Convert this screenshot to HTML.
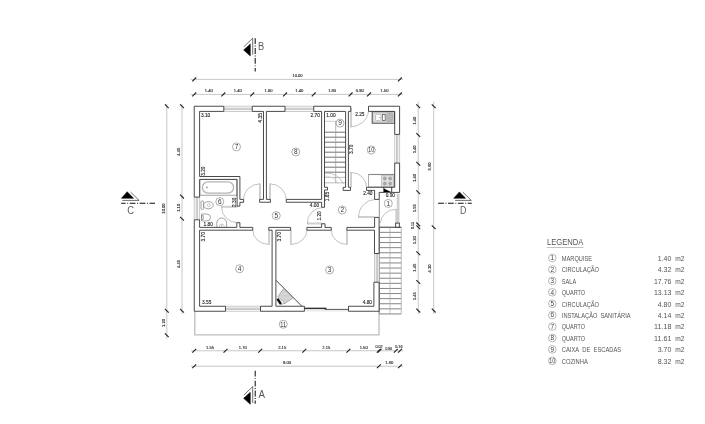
<!DOCTYPE html>
<html><head><meta charset="utf-8"><title>Planta</title>
<style>
html,body{margin:0;padding:0;background:#fff;}
body{width:705px;height:424px;overflow:hidden;font-family:"Liberation Sans",sans-serif;}
svg{display:block;font-family:"Liberation Sans",sans-serif;will-change:transform;transform:translateZ(0);}
</style></head><body>
<svg width="705" height="424" viewBox="0 0 705 424">
<rect width="705" height="424" fill="#fff"/>
<path d="M194.8,311.25 L194.8,334.9 L379.0,334.9 L379.0,311.25" fill="none" stroke="#bdbdbd" stroke-width="1.3"/>
<line x1="379.40" y1="227.25" x2="401.25" y2="227.25" stroke="#333" stroke-width="0.8" />
<line x1="379.40" y1="232.35" x2="401.25" y2="232.35" stroke="#666" stroke-width="0.8" />
<line x1="379.40" y1="237.45" x2="401.25" y2="237.45" stroke="#666" stroke-width="0.8" />
<line x1="379.40" y1="242.55" x2="401.25" y2="242.55" stroke="#666" stroke-width="0.8" />
<line x1="379.40" y1="247.65" x2="401.25" y2="247.65" stroke="#666" stroke-width="0.8" />
<line x1="379.40" y1="252.75" x2="401.25" y2="252.75" stroke="#666" stroke-width="0.8" />
<line x1="379.40" y1="257.85" x2="401.25" y2="257.85" stroke="#666" stroke-width="0.8" />
<line x1="379.40" y1="262.95" x2="401.25" y2="262.95" stroke="#666" stroke-width="0.8" />
<line x1="379.40" y1="268.05" x2="401.25" y2="268.05" stroke="#666" stroke-width="0.8" />
<line x1="379.40" y1="273.15" x2="401.25" y2="273.15" stroke="#666" stroke-width="0.8" />
<line x1="379.40" y1="278.25" x2="401.25" y2="278.25" stroke="#666" stroke-width="0.8" />
<line x1="379.40" y1="283.35" x2="401.25" y2="283.35" stroke="#666" stroke-width="0.8" />
<line x1="379.40" y1="288.45" x2="401.25" y2="288.45" stroke="#666" stroke-width="0.8" />
<line x1="379.40" y1="293.55" x2="401.25" y2="293.55" stroke="#666" stroke-width="0.8" />
<line x1="379.40" y1="298.65" x2="401.25" y2="298.65" stroke="#666" stroke-width="0.8" />
<line x1="379.40" y1="303.75" x2="401.25" y2="303.75" stroke="#666" stroke-width="0.8" />
<line x1="379.40" y1="308.85" x2="401.25" y2="308.85" stroke="#666" stroke-width="0.8" />
<line x1="379.40" y1="313.95" x2="401.25" y2="313.95" stroke="#666" stroke-width="0.8" />
<line x1="390.00" y1="227.25" x2="390.00" y2="314.00" stroke="#aaa" stroke-width="0.7" />
<line x1="401.25" y1="227.25" x2="401.25" y2="314.00" stroke="#aaa" stroke-width="0.8" />
<line x1="379.40" y1="227.25" x2="379.40" y2="314.00" stroke="#888" stroke-width="0.8" />
<rect x="223.80" y="108.14" width="28.45" height="1.47" fill="#e4e4e4"/>
<line x1="223.80" y1="106.25" x2="252.25" y2="106.25" stroke="#b4b4b4" stroke-width="0.7" />
<line x1="223.80" y1="108.14" x2="252.25" y2="108.14" stroke="#b4b4b4" stroke-width="0.7" />
<line x1="223.80" y1="109.61" x2="252.25" y2="109.61" stroke="#b4b4b4" stroke-width="0.7" />
<line x1="223.80" y1="111.50" x2="252.25" y2="111.50" stroke="#b4b4b4" stroke-width="0.7" />
<rect x="285.00" y="108.14" width="28.75" height="1.47" fill="#e4e4e4"/>
<line x1="285.00" y1="106.25" x2="313.75" y2="106.25" stroke="#b4b4b4" stroke-width="0.7" />
<line x1="285.00" y1="108.14" x2="313.75" y2="108.14" stroke="#b4b4b4" stroke-width="0.7" />
<line x1="285.00" y1="109.61" x2="313.75" y2="109.61" stroke="#b4b4b4" stroke-width="0.7" />
<line x1="285.00" y1="111.50" x2="313.75" y2="111.50" stroke="#b4b4b4" stroke-width="0.7" />
<rect x="396.46" y="134.40" width="1.37" height="28.70" fill="#e4e4e4"/>
<line x1="394.70" y1="134.40" x2="394.70" y2="163.10" stroke="#b4b4b4" stroke-width="0.7" />
<line x1="396.46" y1="134.40" x2="396.46" y2="163.10" stroke="#b4b4b4" stroke-width="0.7" />
<line x1="397.84" y1="134.40" x2="397.84" y2="163.10" stroke="#b4b4b4" stroke-width="0.7" />
<line x1="399.60" y1="134.40" x2="399.60" y2="163.10" stroke="#b4b4b4" stroke-width="0.7" />
<rect x="196.18" y="197.10" width="1.50" height="22.70" fill="#e4e4e4"/>
<line x1="194.25" y1="197.10" x2="194.25" y2="219.80" stroke="#b4b4b4" stroke-width="0.7" />
<line x1="196.18" y1="197.10" x2="196.18" y2="219.80" stroke="#b4b4b4" stroke-width="0.7" />
<line x1="197.67" y1="197.10" x2="197.67" y2="219.80" stroke="#b4b4b4" stroke-width="0.7" />
<line x1="199.60" y1="197.10" x2="199.60" y2="219.80" stroke="#b4b4b4" stroke-width="0.7" />
<rect x="225.50" y="308.05" width="35.00" height="1.40" fill="#e4e4e4"/>
<line x1="225.50" y1="306.25" x2="260.50" y2="306.25" stroke="#b4b4b4" stroke-width="0.7" />
<line x1="225.50" y1="308.05" x2="260.50" y2="308.05" stroke="#b4b4b4" stroke-width="0.7" />
<line x1="225.50" y1="309.45" x2="260.50" y2="309.45" stroke="#b4b4b4" stroke-width="0.7" />
<line x1="225.50" y1="311.25" x2="260.50" y2="311.25" stroke="#b4b4b4" stroke-width="0.7" />
<rect x="376.16" y="253.50" width="1.29" height="28.75" fill="#e4e4e4"/>
<line x1="374.50" y1="253.50" x2="374.50" y2="282.25" stroke="#b4b4b4" stroke-width="0.7" />
<line x1="376.16" y1="253.50" x2="376.16" y2="282.25" stroke="#b4b4b4" stroke-width="0.7" />
<line x1="377.44" y1="253.50" x2="377.44" y2="282.25" stroke="#b4b4b4" stroke-width="0.7" />
<line x1="379.10" y1="253.50" x2="379.10" y2="282.25" stroke="#b4b4b4" stroke-width="0.7" />
<line x1="304.40" y1="308.40" x2="326.50" y2="308.40" stroke="#333" stroke-width="1.5" />
<line x1="324.50" y1="309.40" x2="348.50" y2="309.40" stroke="#555" stroke-width="1.0" />
<line x1="304.40" y1="310.90" x2="348.50" y2="310.90" stroke="#ccc" stroke-width="0.6" />
<rect x="396.7" y="193.6" width="2.8" height="29.6" fill="#cfcfcf"/>
<line x1="379.30" y1="199.40" x2="379.30" y2="217.40" stroke="#777" stroke-width="0.8" />
<line x1="379.10" y1="227.25" x2="401.40" y2="227.25" stroke="#444" stroke-width="0.5" />
<line x1="324.50" y1="121.30" x2="336.00" y2="121.30" stroke="#bbb" stroke-width="0.7" />
<line x1="324.50" y1="132.20" x2="345.60" y2="132.20" stroke="#5a5a5a" stroke-width="0.85" />
<line x1="324.50" y1="137.20" x2="345.60" y2="137.20" stroke="#5a5a5a" stroke-width="0.85" />
<line x1="324.50" y1="142.20" x2="345.60" y2="142.20" stroke="#5a5a5a" stroke-width="0.85" />
<line x1="324.50" y1="147.20" x2="345.60" y2="147.20" stroke="#5a5a5a" stroke-width="0.85" />
<line x1="324.50" y1="152.20" x2="345.60" y2="152.20" stroke="#5a5a5a" stroke-width="0.85" />
<line x1="324.50" y1="157.20" x2="345.60" y2="157.20" stroke="#5a5a5a" stroke-width="0.85" />
<line x1="324.50" y1="162.20" x2="345.60" y2="162.20" stroke="#5a5a5a" stroke-width="0.85" />
<line x1="324.50" y1="167.20" x2="345.60" y2="167.20" stroke="#5a5a5a" stroke-width="0.85" />
<line x1="324.50" y1="172.20" x2="345.60" y2="172.20" stroke="#5a5a5a" stroke-width="0.85" />
<line x1="324.50" y1="177.40" x2="345.60" y2="177.40" stroke="#aaa" stroke-width="0.8" />
<line x1="324.50" y1="182.80" x2="345.60" y2="182.80" stroke="#aaa" stroke-width="0.8" />
<line x1="335.70" y1="121.30" x2="335.70" y2="182.80" stroke="#999" stroke-width="0.7" />
<path d="M325,173.2 Q338,172.5 343.5,184" fill="none" stroke="#b0b0b0" stroke-width="0.7"/>
<path d="M325,176 Q334,176 338,184" fill="none" stroke="#c8c8c8" stroke-width="0.6"/>
<path d="M350.75,126.90 A18.00,18.00 0 0 0 368.50,111.50" fill="none" stroke="#a8a8a8" stroke-width="0.7"/>
<rect x="350.40" y="108.50" width="1.00" height="18.40" fill="#fff" stroke="#b0b0b0" stroke-width="0.6"/>
<path d="M259.90,183.90 A16.00,16.00 0 0 0 243.60,199.60" fill="none" stroke="#a8a8a8" stroke-width="0.7"/>
<rect x="259.60" y="183.90" width="1.00" height="15.50" fill="#fff" stroke="#b0b0b0" stroke-width="0.6"/>
<path d="M270.10,183.90 A16.00,16.00 0 0 1 286.25,199.60" fill="none" stroke="#a8a8a8" stroke-width="0.7"/>
<rect x="269.40" y="183.90" width="1.00" height="15.50" fill="#fff" stroke="#b0b0b0" stroke-width="0.6"/>
<path d="M221.60,207.00 A15.40,15.60 0 0 0 237.00,222.60" fill="none" stroke="#a8a8a8" stroke-width="0.7"/>
<rect x="221.60" y="206.20" width="15.40" height="1.00" fill="#fff" stroke="#b0b0b0" stroke-width="0.6"/>
<path d="M307.25,223.60 A15.25,15.80 0 0 1 322.50,207.60" fill="none" stroke="#a8a8a8" stroke-width="0.7"/>
<rect x="307.25" y="223.00" width="14.60" height="1.00" fill="#fff" stroke="#b0b0b0" stroke-width="0.6"/>
<path d="M351.40,172.50 A15.20,15.00 0 0 1 366.60,187.30" fill="none" stroke="#a8a8a8" stroke-width="0.7"/>
<rect x="350.60" y="172.50" width="1.00" height="15.00" fill="#fff" stroke="#b0b0b0" stroke-width="0.6"/>
<path d="M358.50,217.25 A16.50,18.00 0 0 1 374.60,199.60" fill="none" stroke="#a8a8a8" stroke-width="0.7"/>
<rect x="358.50" y="216.70" width="16.10" height="1.00" fill="#fff" stroke="#b0b0b0" stroke-width="0.6"/>
<path d="M395.90,209.40 A15.30,14.40 0 0 0 380.40,223.20" fill="none" stroke="#a8a8a8" stroke-width="0.7"/>
<rect x="395.90" y="209.40" width="0.90" height="13.80" fill="#fff" stroke="#b0b0b0" stroke-width="0.6"/>
<path d="M269.00,244.40 A16.25,14.20 0 0 1 252.75,230.20" fill="none" stroke="#a8a8a8" stroke-width="0.7"/>
<rect x="268.75" y="230.20" width="1.00" height="14.20" fill="#fff" stroke="#b0b0b0" stroke-width="0.6"/>
<path d="M291.00,244.40 A16.00,14.20 0 0 0 306.90,230.20" fill="none" stroke="#a8a8a8" stroke-width="0.7"/>
<rect x="290.20" y="230.20" width="1.00" height="14.20" fill="#fff" stroke="#b0b0b0" stroke-width="0.6"/>
<path d="M346.90,244.40 A15.60,14.20 0 0 1 331.25,230.20" fill="none" stroke="#a8a8a8" stroke-width="0.7"/>
<rect x="346.30" y="230.20" width="1.00" height="14.20" fill="#fff" stroke="#b0b0b0" stroke-width="0.6"/>
<rect x="199.9" y="179.6" width="37" height="15.6" fill="none" stroke="#8c8c8c" stroke-width="0.8"/>
<rect x="202.4" y="181.9" width="31.2" height="11.2" rx="5.6" ry="5.6" fill="#fff" stroke="#b2b2b2" stroke-width="1.3"/>
<circle cx="206.9" cy="187.4" r="0.9" fill="#999"/>
<rect x="201" y="201" width="2.6" height="8.4" rx="0.8" fill="none" stroke="#8c8c8c" stroke-width="0.8"/>
<ellipse cx="208.4" cy="205.2" rx="4.9" ry="3.6" fill="none" stroke="#8c8c8c" stroke-width="0.8"/>
<circle cx="208.8" cy="205.2" r="1.5" fill="none" stroke="#aaa" stroke-width="0.6"/>
<path d="M201.6,214 L206.5,214 A4,3.5 0 0 1 206.5,221 L201.6,221 Z" fill="none" stroke="#8c8c8c" stroke-width="0.8"/>
<rect x="201.4" y="215.7" width="1.8" height="3.6" fill="none" stroke="#8c8c8c" stroke-width="0.8"/>
<path d="M216.8,227.3 L216.8,223 A4.9,5 0 0 1 226.6,223 L226.6,227.3" fill="none" stroke="#8c8c8c" stroke-width="0.8"/>
<path d="M219,227.3 A2.7,3.2 0 0 1 224.4,227.3" fill="none" stroke="#aaa" stroke-width="0.6"/>
<line x1="221.70" y1="224.50" x2="221.70" y2="227.30" stroke="#999" stroke-width="0.6" />
<rect x="372.2" y="111.7" width="22.4" height="11.5" fill="#fff" stroke="#444" stroke-width="1"/>
<rect x="373.9" y="113" width="19.2" height="8.9" fill="#fff" stroke="#9a9a9a" stroke-width="0.7"/>
<rect x="375.5" y="114.3" width="5.4" height="6.3" rx="0.8" fill="#fff" stroke="#a8a8a8" stroke-width="0.7"/>
<circle cx="379.6" cy="117.4" r="0.5" fill="#888"/>
<rect x="382.3" y="114.5" width="2.9" height="5.9" fill="#fff" stroke="#555" stroke-width="0.8"/>
<rect x="386.3" y="113.3" width="6.5" height="8.3" rx="1.5" fill="#b8b8b8" stroke="#999" stroke-width="0.5"/>
<rect x="368.6" y="174.4" width="25.6" height="12.6" fill="#fff" stroke="#999" stroke-width="0.8"/>
<line x1="368.6" y1="174.5" x2="394.2" y2="174.5" stroke="#888" stroke-width="1.1"/>
<rect x="381.6" y="175.7" width="11.9" height="10.6" fill="#dedede" stroke="#aaa" stroke-width="0.6"/>
<circle cx="384.8" cy="178.4" r="1.5" fill="#aaa" stroke="#888" stroke-width="0.5"/>
<circle cx="390.2" cy="178.4" r="1.5" fill="#aaa" stroke="#888" stroke-width="0.5"/>
<circle cx="384.8" cy="183.6" r="1.5" fill="#aaa" stroke="#888" stroke-width="0.5"/>
<circle cx="390.2" cy="183.6" r="1.5" fill="#aaa" stroke="#888" stroke-width="0.5"/>
<path d="M275.9,280.2 L301.9,306.25" fill="none" stroke="#333" stroke-width="0.9"/>
<defs><pattern id="h" width="2" height="1.3" patternUnits="userSpaceOnUse"><rect width="2" height="1.3" fill="#eee"/><line x1="0" y1="0.6" x2="2" y2="0.6" stroke="#999" stroke-width="0.5"/></pattern></defs>
<path d="M283.7,288.5 L293.1,298 L285,303.3 L277.9,296.6 Z" fill="url(#h)" stroke="#888" stroke-width="0.6"/>
<path d="M276.4,299.4 L278.4,297.9 L281.9,303.3 L279.9,304.8 Z" fill="#111"/>
<line x1="280.00" y1="304.60" x2="285.00" y2="303.30" stroke="#666" stroke-width="0.6" />
<path d="M194.25,106.25 L223.80,106.25 L223.80,111.40 L199.60,111.40 L199.60,176.50 L239.90,176.50 L239.90,199.40 L243.60,199.40 L243.60,202.30 L239.90,202.30 L239.90,206.10 L237.10,206.10 L237.10,179.40 L199.60,179.40 L199.60,197.10 L194.25,197.10 Z" stroke="#2a2a2a" stroke-width="0.85" fill="#fff" stroke-linejoin="miter"/>
<path d="M252.25,106.25 L285.00,106.25 L285.00,111.40 L266.40,111.40 L266.40,199.40 L270.40,199.40 L270.40,202.25 L259.60,202.25 L259.60,199.40 L263.50,199.40 L263.50,111.40 L252.25,111.40 Z" stroke="#2a2a2a" stroke-width="0.85" fill="#fff" stroke-linejoin="miter"/>
<path d="M313.75,106.25 L350.75,106.25 L350.75,111.40 L348.40,111.40 L348.40,187.30 L350.50,187.30 L350.50,190.40 L343.20,190.40 L343.20,187.30 L345.60,187.30 L345.60,111.40 L324.50,111.40 L324.50,187.30 L327.50,187.30 L327.50,190.00 L324.50,190.00 L324.50,207.25 L321.60,207.25 L321.60,202.25 L286.25,202.25 L286.25,199.40 L321.60,199.40 L321.60,111.40 L313.75,111.40 Z" stroke="#2a2a2a" stroke-width="0.85" fill="#fff" stroke-linejoin="miter"/>
<path d="M368.50,106.25 L399.60,106.25 L399.60,134.40 L394.70,134.40 L394.70,111.40 L368.50,111.40 Z" stroke="#2a2a2a" stroke-width="0.85" fill="#fff" stroke-linejoin="miter"/>
<path d="M394.70,163.10 L399.60,163.10 L399.60,192.40 L379.20,192.40 L379.20,199.40 L374.60,199.40 L374.60,190.40 L366.50,190.40 L366.50,187.30 L394.70,187.30 Z" stroke="#2a2a2a" stroke-width="0.85" fill="#fff" stroke-linejoin="miter"/>
<line x1="383.80" y1="187.30" x2="383.80" y2="192.40" stroke="#2a2a2a" stroke-width="0.9" />
<line x1="391.70" y1="187.30" x2="391.70" y2="192.40" stroke="#2a2a2a" stroke-width="0.9" />
<path d="M383.9,188.4 L391.0,191.9 L383.9,191.9 Z" fill="#000"/>
<path d="M194.25,219.80 L199.60,219.80 L199.60,227.40 L236.80,227.40 L236.80,222.70 L239.90,222.70 L239.90,227.40 L252.75,227.40 L252.75,230.20 L199.60,230.20 L199.60,306.25 L225.50,306.25 L225.50,311.25 L194.25,311.25 Z" stroke="#2a2a2a" stroke-width="0.85" fill="#fff" stroke-linejoin="miter"/>
<path d="M268.75,227.40 L290.60,227.40 L290.60,230.20 L275.90,230.20 L275.90,306.25 L304.40,306.25 L304.40,311.25 L260.50,311.25 L260.50,306.25 L272.10,306.25 L272.10,230.20 L268.75,230.20 Z" stroke="#2a2a2a" stroke-width="0.85" fill="#fff" stroke-linejoin="miter"/>
<path d="M306.90,227.40 L321.60,227.40 L321.60,223.75 L325.00,223.75 L325.00,227.40 L331.25,227.40 L331.25,230.20 L306.90,230.20 Z" stroke="#2a2a2a" stroke-width="0.85" fill="#fff" stroke-linejoin="miter"/>
<path d="M346.90,227.40 L374.60,227.40 L374.60,217.40 L379.10,217.40 L379.10,253.50 L374.50,253.50 L374.50,230.20 L346.90,230.20 Z" stroke="#2a2a2a" stroke-width="0.85" fill="#fff" stroke-linejoin="miter"/>
<path d="M348.50,306.25 L373.90,306.25 L373.90,282.25 L379.10,282.25 L379.10,311.25 L348.50,311.25 Z" stroke="#2a2a2a" stroke-width="0.85" fill="#fff" stroke-linejoin="miter"/>
<rect x="395.7" y="223.1" width="3.6" height="4.1" stroke="#2a2a2a" stroke-width="0.85" fill="#fff" stroke-linejoin="miter"/>
<circle cx="236.5" cy="146.9" r="4.0" fill="none" stroke="#777" stroke-width="0.6"/>
<text x="236.50" y="149.15" font-size="6.5" fill="#333" text-anchor="middle" >7</text>
<circle cx="295.75" cy="152" r="4.0" fill="none" stroke="#777" stroke-width="0.6"/>
<text x="295.75" y="154.25" font-size="6.5" fill="#333" text-anchor="middle" >8</text>
<circle cx="340" cy="123.1" r="4.0" fill="none" stroke="#777" stroke-width="0.6"/>
<text x="340.00" y="125.35" font-size="6.5" fill="#333" text-anchor="middle" >9</text>
<circle cx="371.25" cy="150" r="4.0" fill="none" stroke="#777" stroke-width="0.6"/>
<text x="371.25" y="152.25" font-size="6.5" fill="#333" text-anchor="middle" textLength="5.90" lengthAdjust="spacingAndGlyphs" >10</text>
<circle cx="219.8" cy="201.6" r="4.0" fill="none" stroke="#777" stroke-width="0.6"/>
<text x="219.80" y="203.85" font-size="6.5" fill="#333" text-anchor="middle" >6</text>
<circle cx="276.25" cy="215.6" r="4.0" fill="none" stroke="#777" stroke-width="0.6"/>
<text x="276.25" y="217.85" font-size="6.5" fill="#333" text-anchor="middle" >5</text>
<circle cx="342.25" cy="210" r="4.0" fill="none" stroke="#777" stroke-width="0.6"/>
<text x="342.25" y="212.25" font-size="6.5" fill="#333" text-anchor="middle" >2</text>
<circle cx="388.3" cy="203.4" r="4.0" fill="none" stroke="#777" stroke-width="0.6"/>
<text x="388.30" y="205.65" font-size="6.5" fill="#333" text-anchor="middle" >1</text>
<circle cx="239.6" cy="268.75" r="4.0" fill="none" stroke="#777" stroke-width="0.6"/>
<text x="239.60" y="271.00" font-size="6.5" fill="#333" text-anchor="middle" >4</text>
<circle cx="329.6" cy="270" r="4.0" fill="none" stroke="#777" stroke-width="0.6"/>
<text x="329.60" y="272.25" font-size="6.5" fill="#333" text-anchor="middle" >3</text>
<circle cx="283.25" cy="324.25" r="4.0" fill="none" stroke="#777" stroke-width="0.6"/>
<text x="283.25" y="326.50" font-size="6.5" fill="#333" text-anchor="middle" textLength="5.90" lengthAdjust="spacingAndGlyphs" >11</text>
<text x="200.90" y="116.90" font-size="4.8" fill="#222" text-anchor="start" stroke="#222" stroke-width="0.12">3.10</text>
<text x="310.60" y="117.00" font-size="4.8" fill="#222" text-anchor="start" stroke="#222" stroke-width="0.12">2.70</text>
<text x="326.30" y="117.00" font-size="4.8" fill="#222" text-anchor="start" stroke="#222" stroke-width="0.12">1.00</text>
<text x="355.20" y="116.00" font-size="4.8" fill="#222" text-anchor="start" stroke="#222" stroke-width="0.12">2.25</text>
<text x="203.60" y="225.70" font-size="4.8" fill="#222" text-anchor="start" stroke="#222" stroke-width="0.12">1.80</text>
<text x="309.80" y="207.00" font-size="4.8" fill="#222" text-anchor="start" stroke="#222" stroke-width="0.12">4.00</text>
<text x="363.20" y="195.00" font-size="4.8" fill="#222" text-anchor="start" stroke="#222" stroke-width="0.12">2.40</text>
<text x="385.70" y="196.80" font-size="4.8" fill="#222" text-anchor="start" stroke="#222" stroke-width="0.12">0.90</text>
<text x="202.00" y="303.80" font-size="4.8" fill="#222" text-anchor="start" stroke="#222" stroke-width="0.12">3.55</text>
<text x="362.70" y="304.40" font-size="4.8" fill="#222" text-anchor="start" stroke="#222" stroke-width="0.12">4.80</text>
<text x="261.80" y="122.50" font-size="4.8" fill="#222" text-anchor="start" transform="rotate(-90 261.80 122.50)" stroke="#222" stroke-width="0.12">4.35</text>
<text x="353.00" y="153.90" font-size="4.8" fill="#222" text-anchor="start" transform="rotate(-90 353.00 153.90)" stroke="#222" stroke-width="0.12">3.70</text>
<text x="204.90" y="175.80" font-size="4.8" fill="#222" text-anchor="start" transform="rotate(-90 204.90 175.80)" stroke="#222" stroke-width="0.12">3.20</text>
<text x="236.10" y="207.00" font-size="4.8" fill="#222" text-anchor="start" transform="rotate(-90 236.10 207.00)" stroke="#222" stroke-width="0.12">2.30</text>
<text x="320.60" y="220.60" font-size="4.8" fill="#222" text-anchor="start" transform="rotate(-90 320.60 220.60)" stroke="#222" stroke-width="0.12">1.20</text>
<text x="329.40" y="201.20" font-size="4.8" fill="#222" text-anchor="start" transform="rotate(-90 329.40 201.20)" stroke="#222" stroke-width="0.12">1.85</text>
<text x="204.90" y="241.40" font-size="4.8" fill="#222" text-anchor="start" transform="rotate(-90 204.90 241.40)" stroke="#222" stroke-width="0.12">3.70</text>
<text x="281.30" y="241.40" font-size="4.8" fill="#222" text-anchor="start" transform="rotate(-90 281.30 241.40)" stroke="#222" stroke-width="0.12">3.70</text>
<line x1="190.60" y1="79.40" x2="403.00" y2="79.40" stroke="#b0b0b0" stroke-width="0.7" />
<line x1="192.30" y1="81.30" x2="196.20" y2="77.50" stroke="#222" stroke-width="1.15" />
<line x1="397.95" y1="81.30" x2="401.85" y2="77.50" stroke="#222" stroke-width="1.15" />
<text x="297.50" y="77.20" font-size="4.1" fill="#2c2c2c" text-anchor="middle" stroke="#2c2c2c" stroke-width="0.14">10.00</text>
<line x1="190.60" y1="94.40" x2="403.00" y2="94.40" stroke="#b0b0b0" stroke-width="0.7" />
<line x1="192.30" y1="96.30" x2="196.20" y2="92.50" stroke="#222" stroke-width="1.15" />
<line x1="221.35" y1="96.30" x2="225.25" y2="92.50" stroke="#222" stroke-width="1.15" />
<line x1="250.25" y1="96.30" x2="254.15" y2="92.50" stroke="#222" stroke-width="1.15" />
<line x1="283.05" y1="96.30" x2="286.95" y2="92.50" stroke="#222" stroke-width="1.15" />
<line x1="311.75" y1="96.30" x2="315.65" y2="92.50" stroke="#222" stroke-width="1.15" />
<line x1="348.65" y1="96.30" x2="352.55" y2="92.50" stroke="#222" stroke-width="1.15" />
<line x1="367.05" y1="96.30" x2="370.95" y2="92.50" stroke="#222" stroke-width="1.15" />
<line x1="397.95" y1="96.30" x2="401.85" y2="92.50" stroke="#222" stroke-width="1.15" />
<text x="208.78" y="92.40" font-size="4.1" fill="#2c2c2c" text-anchor="middle" stroke="#2c2c2c" stroke-width="0.14">1.40</text>
<text x="237.75" y="92.40" font-size="4.1" fill="#2c2c2c" text-anchor="middle" stroke="#2c2c2c" stroke-width="0.14">1.40</text>
<text x="268.60" y="92.40" font-size="4.1" fill="#2c2c2c" text-anchor="middle" stroke="#2c2c2c" stroke-width="0.14">1.60</text>
<text x="299.35" y="92.40" font-size="4.1" fill="#2c2c2c" text-anchor="middle" stroke="#2c2c2c" stroke-width="0.14">1.40</text>
<text x="332.15" y="92.40" font-size="4.1" fill="#2c2c2c" text-anchor="middle" stroke="#2c2c2c" stroke-width="0.14">1.80</text>
<text x="359.80" y="92.40" font-size="4.1" fill="#2c2c2c" text-anchor="middle" stroke="#2c2c2c" stroke-width="0.14">0.90</text>
<text x="384.45" y="92.40" font-size="4.1" fill="#2c2c2c" text-anchor="middle" stroke="#2c2c2c" stroke-width="0.14">1.50</text>
<line x1="191.00" y1="350.75" x2="403.00" y2="350.75" stroke="#b0b0b0" stroke-width="0.7" />
<line x1="192.30" y1="352.65" x2="196.20" y2="348.85" stroke="#222" stroke-width="1.15" />
<line x1="223.55" y1="352.65" x2="227.45" y2="348.85" stroke="#222" stroke-width="1.15" />
<line x1="258.25" y1="352.65" x2="262.15" y2="348.85" stroke="#222" stroke-width="1.15" />
<line x1="302.35" y1="352.65" x2="306.25" y2="348.85" stroke="#222" stroke-width="1.15" />
<line x1="346.45" y1="352.65" x2="350.35" y2="348.85" stroke="#222" stroke-width="1.15" />
<line x1="376.75" y1="352.65" x2="380.65" y2="348.85" stroke="#222" stroke-width="1.15" />
<line x1="377.65" y1="352.65" x2="381.55" y2="348.85" stroke="#222" stroke-width="1.15" />
<line x1="393.85" y1="352.65" x2="397.75" y2="348.85" stroke="#222" stroke-width="1.15" />
<line x1="398.05" y1="352.65" x2="401.95" y2="348.85" stroke="#222" stroke-width="1.15" />
<text x="210.00" y="348.70" font-size="4.1" fill="#2c2c2c" text-anchor="middle" stroke="#2c2c2c" stroke-width="0.14">1.55</text>
<text x="242.80" y="348.70" font-size="4.1" fill="#2c2c2c" text-anchor="middle" stroke="#2c2c2c" stroke-width="0.14">1.70</text>
<text x="282.20" y="348.70" font-size="4.1" fill="#2c2c2c" text-anchor="middle" stroke="#2c2c2c" stroke-width="0.14">2.15</text>
<text x="326.30" y="348.70" font-size="4.1" fill="#2c2c2c" text-anchor="middle" stroke="#2c2c2c" stroke-width="0.14">2.15</text>
<text x="363.70" y="348.70" font-size="4.1" fill="#2c2c2c" text-anchor="middle" stroke="#2c2c2c" stroke-width="0.14">1.50</text>
<text x="379.00" y="348.20" font-size="3.7" fill="#2c2c2c" text-anchor="middle" stroke="#2c2c2c" stroke-width="0.14">0.02</text>
<text x="388.80" y="349.60" font-size="3.3" fill="#2c2c2c" text-anchor="middle" stroke="#2c2c2c" stroke-width="0.14">0.80</text>
<text x="398.90" y="348.20" font-size="3.7" fill="#2c2c2c" text-anchor="middle" stroke="#2c2c2c" stroke-width="0.14">0.16</text>
<line x1="191.00" y1="366.25" x2="403.00" y2="366.25" stroke="#b0b0b0" stroke-width="0.7" />
<line x1="192.30" y1="368.15" x2="196.20" y2="364.35" stroke="#222" stroke-width="1.15" />
<line x1="376.95" y1="368.15" x2="380.85" y2="364.35" stroke="#222" stroke-width="1.15" />
<line x1="398.05" y1="368.15" x2="401.95" y2="364.35" stroke="#222" stroke-width="1.15" />
<text x="287.00" y="364.20" font-size="4.1" fill="#2c2c2c" text-anchor="middle" stroke="#2c2c2c" stroke-width="0.14">9.00</text>
<text x="389.30" y="364.20" font-size="4.1" fill="#2c2c2c" text-anchor="middle" stroke="#2c2c2c" stroke-width="0.14">1.80</text>
<line x1="418.25" y1="101.50" x2="418.25" y2="314.00" stroke="#b0b0b0" stroke-width="0.7" />
<line x1="416.35" y1="104.30" x2="420.15" y2="108.10" stroke="#222" stroke-width="1.15" />
<line x1="416.35" y1="133.10" x2="420.15" y2="136.90" stroke="#222" stroke-width="1.15" />
<line x1="416.35" y1="161.80" x2="420.15" y2="165.60" stroke="#222" stroke-width="1.15" />
<line x1="416.35" y1="190.30" x2="420.15" y2="194.10" stroke="#222" stroke-width="1.15" />
<line x1="416.35" y1="222.50" x2="420.15" y2="226.30" stroke="#222" stroke-width="1.15" />
<line x1="416.35" y1="225.30" x2="420.15" y2="229.10" stroke="#222" stroke-width="1.15" />
<line x1="416.35" y1="251.40" x2="420.15" y2="255.20" stroke="#222" stroke-width="1.15" />
<line x1="416.35" y1="280.10" x2="420.15" y2="283.90" stroke="#222" stroke-width="1.15" />
<line x1="416.35" y1="308.70" x2="420.15" y2="312.50" stroke="#222" stroke-width="1.15" />
<text x="416.00" y="120.60" font-size="4.1" fill="#2c2c2c" text-anchor="middle" transform="rotate(-90 416.00 120.60)" stroke="#2c2c2c" stroke-width="0.14">1.40</text>
<text x="416.00" y="149.35" font-size="4.1" fill="#2c2c2c" text-anchor="middle" transform="rotate(-90 416.00 149.35)" stroke="#2c2c2c" stroke-width="0.14">1.40</text>
<text x="416.00" y="177.95" font-size="4.1" fill="#2c2c2c" text-anchor="middle" transform="rotate(-90 416.00 177.95)" stroke="#2c2c2c" stroke-width="0.14">1.40</text>
<text x="416.00" y="208.30" font-size="4.1" fill="#2c2c2c" text-anchor="middle" transform="rotate(-90 416.00 208.30)" stroke="#2c2c2c" stroke-width="0.14">1.55</text>
<text x="416.00" y="240.25" font-size="4.1" fill="#2c2c2c" text-anchor="middle" transform="rotate(-90 416.00 240.25)" stroke="#2c2c2c" stroke-width="0.14">1.20</text>
<text x="416.00" y="267.65" font-size="4.1" fill="#2c2c2c" text-anchor="middle" transform="rotate(-90 416.00 267.65)" stroke="#2c2c2c" stroke-width="0.14">1.45</text>
<text x="416.00" y="296.30" font-size="4.1" fill="#2c2c2c" text-anchor="middle" transform="rotate(-90 416.00 296.30)" stroke="#2c2c2c" stroke-width="0.14">1.45</text>
<text x="413.60" y="225.50" font-size="3.6" fill="#2c2c2c" text-anchor="middle" transform="rotate(-90 413.60 225.50)" stroke="#2c2c2c" stroke-width="0.14">0.15</text>
<line x1="433.70" y1="101.50" x2="433.70" y2="314.00" stroke="#b0b0b0" stroke-width="0.7" />
<line x1="431.80" y1="104.30" x2="435.60" y2="108.10" stroke="#222" stroke-width="1.15" />
<line x1="431.80" y1="225.30" x2="435.60" y2="229.10" stroke="#222" stroke-width="1.15" />
<line x1="431.80" y1="308.70" x2="435.60" y2="312.50" stroke="#222" stroke-width="1.15" />
<text x="431.40" y="166.50" font-size="4.1" fill="#2c2c2c" text-anchor="middle" transform="rotate(-90 431.40 166.50)" stroke="#2c2c2c" stroke-width="0.14">5.90</text>
<text x="431.40" y="268.50" font-size="4.1" fill="#2c2c2c" text-anchor="middle" transform="rotate(-90 431.40 268.50)" stroke="#2c2c2c" stroke-width="0.14">4.10</text>
<line x1="182.00" y1="104.00" x2="182.00" y2="314.00" stroke="#b0b0b0" stroke-width="0.7" />
<line x1="180.10" y1="104.40" x2="183.90" y2="108.20" stroke="#222" stroke-width="1.15" />
<line x1="180.10" y1="194.70" x2="183.90" y2="198.50" stroke="#222" stroke-width="1.15" />
<line x1="180.10" y1="216.90" x2="183.90" y2="220.70" stroke="#222" stroke-width="1.15" />
<line x1="180.10" y1="308.90" x2="183.90" y2="312.70" stroke="#222" stroke-width="1.15" />
<text x="180.20" y="151.70" font-size="4.1" fill="#2c2c2c" text-anchor="middle" transform="rotate(-90 180.20 151.70)" stroke="#2c2c2c" stroke-width="0.14">4.45</text>
<text x="180.20" y="207.80" font-size="4.1" fill="#2c2c2c" text-anchor="middle" transform="rotate(-90 180.20 207.80)" stroke="#2c2c2c" stroke-width="0.14">1.10</text>
<text x="180.20" y="264.00" font-size="4.1" fill="#2c2c2c" text-anchor="middle" transform="rotate(-90 180.20 264.00)" stroke="#2c2c2c" stroke-width="0.14">4.45</text>
<line x1="166.80" y1="104.00" x2="166.80" y2="339.00" stroke="#b0b0b0" stroke-width="0.7" />
<line x1="164.90" y1="104.40" x2="168.70" y2="108.20" stroke="#222" stroke-width="1.15" />
<line x1="164.90" y1="308.90" x2="168.70" y2="312.70" stroke="#222" stroke-width="1.15" />
<line x1="164.90" y1="333.40" x2="168.70" y2="337.20" stroke="#222" stroke-width="1.15" />
<text x="165.00" y="208.50" font-size="4.1" fill="#2c2c2c" text-anchor="middle" transform="rotate(-90 165.00 208.50)" stroke="#2c2c2c" stroke-width="0.14">10.00</text>
<text x="165.00" y="323.00" font-size="4.1" fill="#2c2c2c" text-anchor="middle" transform="rotate(-90 165.00 323.00)" stroke="#2c2c2c" stroke-width="0.14">1.20</text>
<path d="M255.2,38.2 L255.2,71.5" stroke="#111" stroke-width="1.05" stroke-dasharray="5.8 1.6 0.9 1.6" fill="none"/>
<path d="M243.8,46.8 L252.7,38.3 L252.7,54.7" fill="none" stroke="#333" stroke-width="0.7"/>
<path d="M243.6,50 L250.3,44 L250.3,56 Z" fill="#000" stroke="#000" stroke-width="0.5"/>
<text x="258.00" y="49.60" font-size="10" fill="#585858" text-anchor="start" textLength="6.20" lengthAdjust="spacingAndGlyphs" >B</text>
<path d="M255.2,370.8 L255.2,403.8" stroke="#111" stroke-width="1.05" stroke-dasharray="5.8 1.6 0.9 1.6" fill="none"/>
<path d="M243.8,395.1 L252.7,386.6 L252.7,403.0" fill="none" stroke="#333" stroke-width="0.7"/>
<path d="M243.6,398.3 L250.3,392.3 L250.3,404.3 Z" fill="#000" stroke="#000" stroke-width="0.5"/>
<text x="258.40" y="398.40" font-size="10" fill="#585858" text-anchor="start" textLength="6.50" lengthAdjust="spacingAndGlyphs" >A</text>
<path d="M121.2,203.3 L155,203.3" stroke="#111" stroke-width="1.05" stroke-dasharray="5.8 1.6 0.9 1.6" fill="none" stroke-dashoffset="1.4"/>
<path d="M122.3,200.4 L139.1,200.4 L130.6,192.1" fill="none" stroke="#333" stroke-width="0.7"/>
<path d="M121.4,198.3 L127.2,191.7 L133.6,198.3 Z" fill="#000" stroke="#000" stroke-width="0.5"/>
<text x="127.20" y="214.00" font-size="10" fill="#585858" text-anchor="start" textLength="6.80" lengthAdjust="spacingAndGlyphs" >C</text>
<path d="M438.1,203.3 L471.8,203.3" stroke="#111" stroke-width="1.05" stroke-dasharray="5.8 1.6 0.9 1.6" fill="none"/>
<path d="M455.1,200.4 L471.3,200.4 L462.8,192.1" fill="none" stroke="#333" stroke-width="0.7"/>
<path d="M453.7,198.3 L459.4,191.9 L465.7,198.3 Z" fill="#000" stroke="#000" stroke-width="0.5"/>
<text x="460.00" y="214.20" font-size="10" fill="#585858" text-anchor="start" textLength="6.40" lengthAdjust="spacingAndGlyphs" >D</text>
<text x="546.90" y="245.40" font-size="9.3" fill="#555" text-anchor="start" textLength="36.50" lengthAdjust="spacingAndGlyphs" >LEGENDA</text>
<line x1="546.90" y1="247.50" x2="583.40" y2="247.50" stroke="#999" stroke-width="0.6" />
<circle cx="552.3" cy="258.00" r="3.8" fill="none" stroke="#888" stroke-width="0.6"/>
<text x="552.30" y="260.30" font-size="6.4" fill="#444" text-anchor="middle" >1</text>
<text x="561.80" y="260.80" font-size="6.4" fill="#555" text-anchor="start" textLength="30.30" lengthAdjust="spacingAndGlyphs" >MARQUISE</text>
<text x="657.80" y="260.80" font-size="6.4" fill="#555" text-anchor="start" textLength="13.60" lengthAdjust="spacingAndGlyphs" >1.40</text>
<text x="675.20" y="260.80" font-size="6.4" fill="#555" text-anchor="start" textLength="9.20" lengthAdjust="spacingAndGlyphs" >m2</text>
<circle cx="552.3" cy="269.43" r="3.8" fill="none" stroke="#888" stroke-width="0.6"/>
<text x="552.30" y="271.73" font-size="6.4" fill="#444" text-anchor="middle" >2</text>
<text x="561.80" y="272.23" font-size="6.4" fill="#555" text-anchor="start" textLength="37.20" lengthAdjust="spacingAndGlyphs" >CIRCULAÇÃO</text>
<text x="657.80" y="272.23" font-size="6.4" fill="#555" text-anchor="start" textLength="13.60" lengthAdjust="spacingAndGlyphs" >4.32</text>
<text x="675.20" y="272.23" font-size="6.4" fill="#555" text-anchor="start" textLength="9.20" lengthAdjust="spacingAndGlyphs" >m2</text>
<circle cx="552.3" cy="280.86" r="3.8" fill="none" stroke="#888" stroke-width="0.6"/>
<text x="552.30" y="283.16" font-size="6.4" fill="#444" text-anchor="middle" >3</text>
<text x="561.80" y="283.66" font-size="6.4" fill="#555" text-anchor="start" textLength="14.40" lengthAdjust="spacingAndGlyphs" >SALA</text>
<text x="654.00" y="283.66" font-size="6.4" fill="#555" text-anchor="start" textLength="17.40" lengthAdjust="spacingAndGlyphs" >17.76</text>
<text x="675.20" y="283.66" font-size="6.4" fill="#555" text-anchor="start" textLength="9.20" lengthAdjust="spacingAndGlyphs" >m2</text>
<circle cx="552.3" cy="292.29" r="3.8" fill="none" stroke="#888" stroke-width="0.6"/>
<text x="552.30" y="294.59" font-size="6.4" fill="#444" text-anchor="middle" >4</text>
<text x="561.80" y="295.09" font-size="6.4" fill="#555" text-anchor="start" textLength="23.30" lengthAdjust="spacingAndGlyphs" >QUARTO</text>
<text x="654.00" y="295.09" font-size="6.4" fill="#555" text-anchor="start" textLength="17.40" lengthAdjust="spacingAndGlyphs" >13.13</text>
<text x="675.20" y="295.09" font-size="6.4" fill="#555" text-anchor="start" textLength="9.20" lengthAdjust="spacingAndGlyphs" >m2</text>
<circle cx="552.3" cy="303.72" r="3.8" fill="none" stroke="#888" stroke-width="0.6"/>
<text x="552.30" y="306.02" font-size="6.4" fill="#444" text-anchor="middle" >5</text>
<text x="561.80" y="306.52" font-size="6.4" fill="#555" text-anchor="start" textLength="37.20" lengthAdjust="spacingAndGlyphs" >CIRCULAÇÃO</text>
<text x="657.80" y="306.52" font-size="6.4" fill="#555" text-anchor="start" textLength="13.60" lengthAdjust="spacingAndGlyphs" >4.80</text>
<text x="675.20" y="306.52" font-size="6.4" fill="#555" text-anchor="start" textLength="9.20" lengthAdjust="spacingAndGlyphs" >m2</text>
<circle cx="552.3" cy="315.15" r="3.8" fill="none" stroke="#888" stroke-width="0.6"/>
<text x="552.30" y="317.45" font-size="6.4" fill="#444" text-anchor="middle" >6</text>
<text x="561.80" y="317.95" font-size="6.4" fill="#555" text-anchor="start" textLength="68.70" lengthAdjust="spacingAndGlyphs" >INSTALAÇÃO&#160;&#160;SANITÁRIA</text>
<text x="657.80" y="317.95" font-size="6.4" fill="#555" text-anchor="start" textLength="13.60" lengthAdjust="spacingAndGlyphs" >4.14</text>
<text x="675.20" y="317.95" font-size="6.4" fill="#555" text-anchor="start" textLength="9.20" lengthAdjust="spacingAndGlyphs" >m2</text>
<circle cx="552.3" cy="326.58" r="3.8" fill="none" stroke="#888" stroke-width="0.6"/>
<text x="552.30" y="328.88" font-size="6.4" fill="#444" text-anchor="middle" >7</text>
<text x="561.80" y="329.38" font-size="6.4" fill="#555" text-anchor="start" textLength="23.30" lengthAdjust="spacingAndGlyphs" >QUARTO</text>
<text x="654.00" y="329.38" font-size="6.4" fill="#555" text-anchor="start" textLength="17.40" lengthAdjust="spacingAndGlyphs" >11.18</text>
<text x="675.20" y="329.38" font-size="6.4" fill="#555" text-anchor="start" textLength="9.20" lengthAdjust="spacingAndGlyphs" >m2</text>
<circle cx="552.3" cy="338.01" r="3.8" fill="none" stroke="#888" stroke-width="0.6"/>
<text x="552.30" y="340.31" font-size="6.4" fill="#444" text-anchor="middle" >8</text>
<text x="561.80" y="340.81" font-size="6.4" fill="#555" text-anchor="start" textLength="23.30" lengthAdjust="spacingAndGlyphs" >QUARTO</text>
<text x="654.00" y="340.81" font-size="6.4" fill="#555" text-anchor="start" textLength="17.40" lengthAdjust="spacingAndGlyphs" >11.61</text>
<text x="675.20" y="340.81" font-size="6.4" fill="#555" text-anchor="start" textLength="9.20" lengthAdjust="spacingAndGlyphs" >m2</text>
<circle cx="552.3" cy="349.44" r="3.8" fill="none" stroke="#888" stroke-width="0.6"/>
<text x="552.30" y="351.74" font-size="6.4" fill="#444" text-anchor="middle" >9</text>
<text x="561.80" y="352.24" font-size="6.4" fill="#555" text-anchor="start" textLength="59.30" lengthAdjust="spacingAndGlyphs" >CAIXA&#160;&#160;DE&#160;&#160;ESCADAS</text>
<text x="657.80" y="352.24" font-size="6.4" fill="#555" text-anchor="start" textLength="13.60" lengthAdjust="spacingAndGlyphs" >3.70</text>
<text x="675.20" y="352.24" font-size="6.4" fill="#555" text-anchor="start" textLength="9.20" lengthAdjust="spacingAndGlyphs" >m2</text>
<circle cx="552.3" cy="360.87" r="3.8" fill="none" stroke="#888" stroke-width="0.6"/>
<text x="552.30" y="363.17" font-size="6.4" fill="#444" text-anchor="middle" textLength="6.00" lengthAdjust="spacingAndGlyphs" >10</text>
<text x="561.80" y="363.67" font-size="6.4" fill="#555" text-anchor="start" textLength="26.00" lengthAdjust="spacingAndGlyphs" >COZINHA</text>
<text x="657.80" y="363.67" font-size="6.4" fill="#555" text-anchor="start" textLength="13.60" lengthAdjust="spacingAndGlyphs" >8.32</text>
<text x="675.20" y="363.67" font-size="6.4" fill="#555" text-anchor="start" textLength="9.20" lengthAdjust="spacingAndGlyphs" >m2</text>
</svg>
</body></html>
